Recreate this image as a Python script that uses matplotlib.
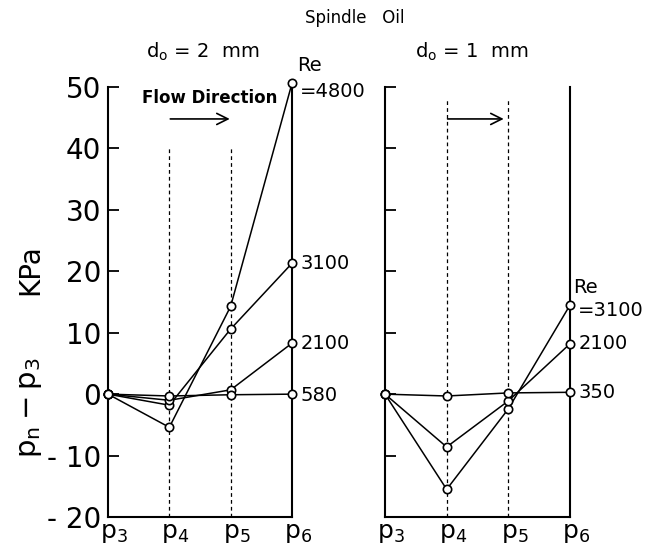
import numpy as np
import matplotlib.pyplot as plt
import matplotlib.transforms as mtransforms

taps = ['$\\mathregular{p_3}$', '$\\mathregular{p_4}$', '$\\mathregular{p_5}$', '$\\mathregular{p_6}$']

# p_n - p_3 [kPa], d0 = 2 mm
re_2mm = ['=4800', '3100', '2100', '580']
dp_2mm = [
    [0, -5.4, 14.3, 50.6],
    [0, -1.8, 10.6, 21.3],
    [0, -1.0, 0.7, 8.3],
    [0, -0.3, -0.1, 0.0],
]

# p_n - p_3 [kPa], d0 = 1 mm
re_1mm = ['=3100', '2100', '350']
dp_1mm = [
    [0, -15.5, -2.4, 14.5],
    [0, -8.6, -1.1, 8.2],
    [0, -0.3, 0.2, 0.3],
]

yticks = [50, 40, 30, 20, 10, 0, -10, -20]
ytick_labels = ['50', '40', '30', '20', '10', '0', '- 10', '- 20']

plt.rcParams['font.family'] = 'DejaVu Sans'
fig = plt.figure(figsize=(6.55, 5.5), dpi=100)

ax1 = fig.add_axes([108/655, 33/550, 184/655, 430/550])
ax2 = fig.add_axes([385/655, 33/550, 185/655, 430/550])

# nudge the tap labels so the "p" sits on the tick, subscript to the right
shift = mtransforms.ScaledTranslation(6/100, 0, fig.dpi_scale_trans)


def setup(ax, labels):
    ax.set_xlim(0, 3)
    ax.set_ylim(-20, 50)
    ax.spines['top'].set_visible(False)
    for s in ['left', 'bottom', 'right']:
        ax.spines[s].set_linewidth(1.5)
    ax.set_yticks(yticks)
    ax.tick_params(axis='y', direction='in', length=8, width=1.3, right=False)
    ax.set_xticks(range(4))
    ax.set_xticklabels(taps, fontsize=18)
    ax.tick_params(axis='x', length=0, pad=3)
    for lab in ax.get_xticklabels():
        lab.set_transform(lab.get_transform() + shift)
    if labels:
        ax.set_yticklabels(ytick_labels, fontsize=20)
        ax.tick_params(axis='y', pad=5)
    else:
        ax.set_yticklabels([])


def draw(ax, series, names, dy):
    for vals, name, off in zip(series, names, dy):
        ax.plot(range(4), vals, color='black', lw=1.1, marker='o', ms=6,
                mfc='white', mec='black', mew=1.2, clip_on=False, zorder=3)
        ax.annotate(name, (3, vals[-1]), xytext=(6, off), textcoords='offset points',
                    fontsize=14, va='center', ha='left', annotation_clip=False)


setup(ax1, True)
setup(ax2, False)

ax1.vlines([1, 2], -20, 40, colors='black', linestyles=(0, (3, 2.5)), lw=0.9)
ax2.vlines([1, 2], -20, 48, colors='black', linestyles=(0, (3, 2.5)), lw=0.9)

draw(ax1, dp_2mm, re_2mm, [-6, 0, 0, -1])
draw(ax2, dp_1mm, re_1mm, [-4, 0, 0])

ax1.text(3.08, 53.5, 'Re', fontsize=14, ha='left', va='center')
ax2.text(3.05, 17.3, 'Re', fontsize=14, ha='left', va='center')

ax1.text(1.65, 48.2, 'Flow Direction', fontsize=12, fontweight='semibold',
         ha='center', va='center')
ax1.annotate('', xy=(2.03, 44.8), xytext=(0.97, 44.8),
             arrowprops=dict(arrowstyle='->', lw=1.2, mutation_scale=20))
ax2.annotate('', xy=(1.97, 44.8), xytext=(0.97, 44.8),
             arrowprops=dict(arrowstyle='->', lw=1.2, mutation_scale=20))

fig.text(355/655, 1 - 18/550, 'Spindle   Oil', fontsize=12, ha='center', va='center')
fig.text(203/655, 1 - 52/550, 'd$_\\mathregular{o}$ = 2  mm', fontsize=14, ha='center', va='center')
fig.text(472/655, 1 - 52/550, 'd$_\\mathregular{o}$ = 1  mm', fontsize=14, ha='center', va='center')

fig.text(30/655, 1 - 270/550, 'KPa', fontsize=20, rotation=90, ha='center', va='center')
fig.text(30/655, 1 - 408/550, '$\\mathregular{p_n - p_3}$', fontsize=21, rotation=90,
         ha='center', va='center')

fig.savefig('out.png', dpi=100)
